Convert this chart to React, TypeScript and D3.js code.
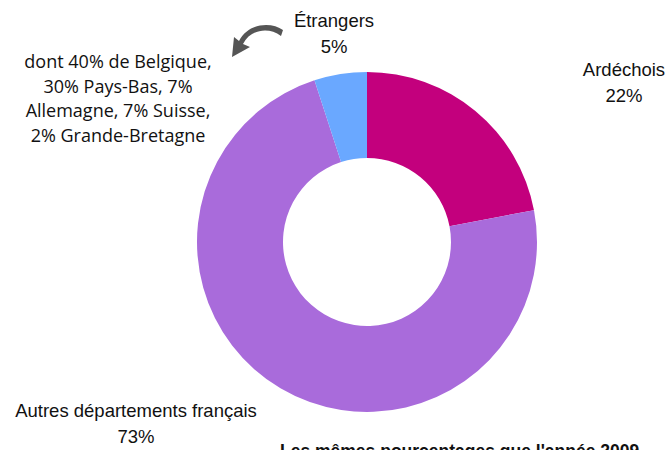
import React, { useEffect, useRef } from "react";
import * as d3 from "d3";

const categories = ["Ardéchois", "Autres départements français", "Étrangers"];
const shares = [22, 73, 5];
const colors = ["#C3007D", "#A96BDB", "#6AA8FF"];
const noteLines = ["dont 40% de Belgique,", "30% Pays-Bas, 7%", "Allemagne, 7% Suisse,", "2% Grande-Bretagne"];
const footer = "Les mêmes pourcentages que l'année 2009";

const App = () => {
  const ref = useRef<SVGSVGElement | null>(null);

  useEffect(() => {
    const width = 672;
    const height = 450;
    const svg = d3.select(ref.current);
    svg.selectAll("*").remove();
    svg.attr("width", width).attr("height", height).attr("viewBox", `0 0 ${width} ${height}`);

    const cx = 367;
    const cy = 242;
    const outer = 170;
    const inner = 84;

    const pie = d3.pie<number>().sort(null).value((d) => d);
    const arc = d3.arc<d3.PieArcDatum<number>>().innerRadius(inner).outerRadius(outer);

    svg
      .append("g")
      .attr("transform", `translate(${cx},${cy})`)
      .selectAll("path")
      .data(pie(shares))
      .join("path")
      .attr("d", arc)
      .attr("fill", (d, i) => colors[i]);

    const labelFont = "'Liberation Sans', Arial, sans-serif";
    const labels = [
      { x: 624, y: 76 },
      { x: 136, y: 417 },
      { x: 334, y: 27 },
    ];
    labels.forEach((p, i) => {
      const t = svg
        .append("text")
        .attr("text-anchor", "middle")
        .style("font-family", labelFont)
        .style("font-size", "18.5px")
        .attr("fill", "#111");
      t.append("tspan").attr("x", p.x).attr("y", p.y).text(categories[i]);
      t.append("tspan").attr("x", p.x).attr("y", p.y + 26).text(`${shares[i]}%`);
    });

    // note under Étrangers
    const note = svg
      .append("text")
      .attr("text-anchor", "middle")
      .style("font-family", "'Open Sans', sans-serif")
      .style("font-size", "18px")
      .attr("fill", "#111");
    noteLines.forEach((line, i) => {
      note.append("tspan").attr("x", 118).attr("y", 68 + i * 24.7).text(line);
    });

    // curved arrow
    svg
      .append("path")
      .attr("d", "M281,36 C268,26 250,30 243,44 L250,47 L232,57 L234,37 L239,41 C249,22 272,22 283,30 Z")
      .attr("fill", "#555");

    // footer note, partly below the bottom edge as in the original
    svg
      .append("text")
      .attr("x", 280)
      .attr("y", 456.5)
      .style("font-family", labelFont)
      .style("font-size", "17.5px")
      .style("font-weight", "bold")
      .attr("fill", "#111")
      .text(footer);
  }, []);

  return <svg ref={ref} style={{ position: "absolute", left: 0, top: 0 }} />;
};

export default App;
